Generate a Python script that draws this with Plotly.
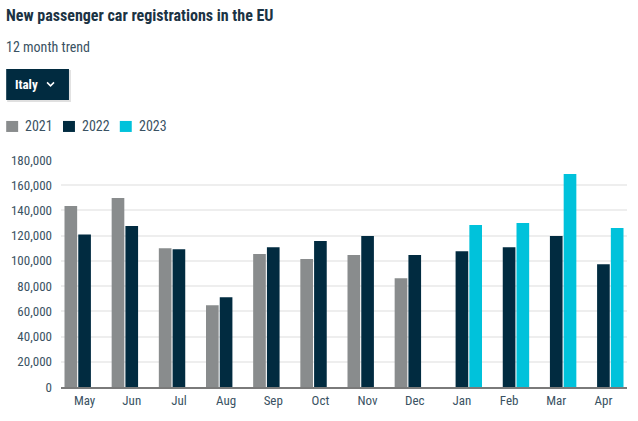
import plotly.graph_objects as go

months = ["May", "Jun", "Jul", "Aug", "Sep", "Oct", "Nov", "Dec", "Jan", "Feb", "Mar", "Apr"]
y2021 = [143500, 149800, 110100, 64900, 105400, 101400, 104600, 86300, None, None, None, None]
y2022 = [121000, 127600, 109300, 71200, 110900, 115700, 119700, 104600, 107700, 110900, 119700, 97400]
y2023 = [None, None, None, None, None, None, None, None, 128400, 130000, 168900, 126000]
years = ["2021", "2022", "2023"]
colors = ["#898c8d", "#012b40", "#00c2db"]
tick_vals = [0, 20000, 40000, 60000, 80000, 100000, 120000, 140000, 160000, 180000]
tick_text = ["0", "20,000", "40,000", "60,000", "80,000", "100,000", "120,000", "140,000", "160,000", "180,000"]

FONT = "Roboto Condensed, Liberation Sans Narrow, Roboto, sans-serif"
TXT = "#3a5263"

fig = go.Figure()
for name, vals, col in zip(years, [y2021, y2022, y2023], colors):
    fig.add_trace(go.Bar(x=months, y=vals, name=name, marker=dict(color=col, line=dict(width=0)),
                         showlegend=False))

fig.update_layout(
    width=638, height=421,
    margin=dict(l=59, r=11, t=160, b=34),
    paper_bgcolor="white", plot_bgcolor="white",
    barmode="group", bargap=0.125, bargroupgap=0.08,
    font=dict(family=FONT, color=TXT, size=12),
)
fig.update_xaxes(showline=True, linecolor="#7a7a7a", linewidth=2, showgrid=False,
                 ticks="", tickfont=dict(size=13, color=TXT), fixedrange=True)
fig.update_yaxes(range=[0, 180000], tickvals=tick_vals, ticktext=tick_text,
                 showgrid=True, gridcolor="#eeeeee", gridwidth=2, zeroline=False,
                 ticks="", ticklabelstandoff=8, tickfont=dict(size=13, color=TXT), fixedrange=True)

def px(x):
    return (x - 59) / 568

def py(y):
    return (386.7 - y) / 226.7

# Title and subtitle
fig.add_annotation(text="<b>New passenger car registrations in the EU</b>", xref="paper", yref="paper",
                   x=px(2), y=py(16), xanchor="left", yanchor="middle", showarrow=False,
                   font=dict(size=16, color="#1b3344", family=FONT))
fig.add_annotation(text="12 month trend", xref="paper", yref="paper",
                   x=px(2), y=py(47), xanchor="left", yanchor="middle", showarrow=False,
                   font=dict(size=14, color="#3a5263", family=FONT))

# Dropdown button with shadow
fig.add_shape(type="rect", xref="paper", yref="paper", x0=px(5), x1=px(69), y0=py(102), y1=py(70),
              fillcolor="rgba(0,0,0,0.12)", line=dict(width=0), layer="above")
fig.add_shape(type="rect", xref="paper", yref="paper", x0=px(4), x1=px(67), y0=py(100), y1=py(69),
              fillcolor="#012b40", line=dict(width=0), layer="above")
fig.add_annotation(text="<b>Italy</b>", xref="paper", yref="paper", x=px(11), y=py(84.5),
                   xanchor="left", yanchor="middle", showarrow=False,
                   font=dict(size=13, color="white", family=FONT))
fig.add_shape(type="path", xref="paper", yref="paper",
              path=f"M {px(45)} {py(82.5)} L {px(48.5)} {py(86)} L {px(52)} {py(82.5)}",
              line=dict(color="white", width=1.5), layer="above")

# Manual legend
leg_x = [4, 61, 118]
for name, col, lx in zip(years, colors, leg_x):
    fig.add_shape(type="rect", xref="paper", yref="paper", x0=px(lx), x1=px(lx + 12),
                  y0=py(132), y1=py(121), fillcolor=col, line=dict(width=0), layer="above")
    fig.add_annotation(text=name, xref="paper", yref="paper", x=px(lx + 17), y=py(126.5),
                       xanchor="left", yanchor="middle", showarrow=False,
                       font=dict(size=14, color=TXT, family=FONT))

fig.write_html("out.html", config={"displayModeBar": False},
               post_script="document.body.style.margin='0';")
